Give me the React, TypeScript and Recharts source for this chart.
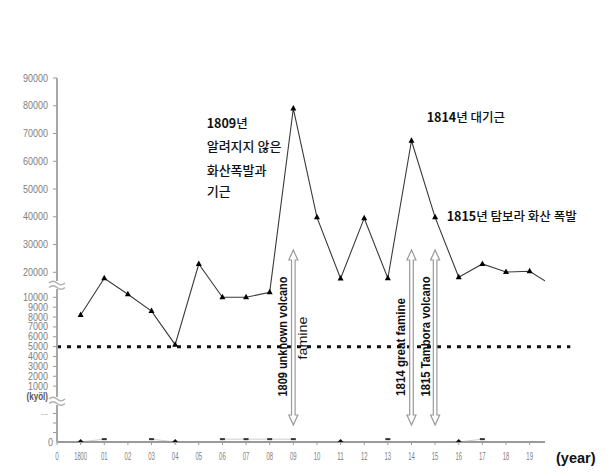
import React from 'react';
import { LineChart, Line, XAxis, YAxis, ReferenceLine } from 'recharts';

// categories: 1800 .. 1820 (the 1820 point only shows as the clipped end of the line)
const yearLabels = ['1800', '01', '02', '03', '04', '05', '06', '07', '08', '09', '10', '11', '12', '13', '14', '15', '16', '17', '18', '19', '20'];
const deaths = [8200, 17600, 11200, 8600, 5200, 23000, 10000, 10000, 12000, 79000, 39800, 17500, 39500, 17600, 67400, 39800, 18000, 23000, 20100, 20400, 14500];
const lowSeries = [0, 0.3, null, 0.3, 0, null, 0.3, 0.3, 0.3, 0.3, null, 0, null, 0.3, null, null, 0, 0.3, null, null, null];

const upperTicks = [20000, 30000, 40000, 50000, 60000, 70000, 80000, 90000];
const lowerTicks = [1000, 2000, 3000, 4000, 5000, 6000, 7000, 8000, 9000, 10000];
const subTicks = [0, 1, 2, 3];
const famineLine = 5000;

const eventYears = [9, 14, 15];
const eventLabels = ['1809 unknown volcano', '1814 great famine', '1815 Tambora volcano'];

// broken axis: value -> axis unit (piecewise linear)
const MAIN_STOPS: [number, number][] = [[0, 46], [10000, 144.7], [20000, 169.7], [90000, 364]];
const SUB_STOPS: [number, number][] = [[0, 0], [3, 28.5]];
const BREAKS = [41, 157];
const ARROW_TOP = 192;
const ARROW_BOTTOM = 17;

function piece(v: number, stops: [number, number][]) {
    for (let i = 1; i < stops.length; i++) {
        const [v0, u0] = stops[i - 1];
        const [v1, u1] = stops[i];
        if (v <= v1 || i === stops.length - 1) {
            return u0 + ((v - v0) / (v1 - v0)) * (u1 - u0);
        }
    }
    return 0;
}
const mainAxis = (v: number) => piece(v, MAIN_STOPS);
const subAxis = (v: number) => piece(v, SUB_STOPS);

const data = yearLabels.map((label, i) => ({
    x: i,
    label,
    main: mainAxis(deaths[i]),
    sub: lowSeries[i] == null ? null : subAxis(lowSeries[i] as number),
    subRaw: lowSeries[i],
}));

type TickInfo = { label: string; kind: string };
const tickInfo = new Map<string, TickInfo>();
upperTicks.forEach((v) => tickInfo.set(mainAxis(v).toFixed(2), { label: String(v), kind: 'main' }));
lowerTicks.forEach((v) => tickInfo.set(mainAxis(v).toFixed(2), { label: String(v), kind: 'main' }));
tickInfo.set(mainAxis(0).toFixed(2), { label: '(kyöl)', kind: 'unit' });
subTicks.forEach((v) => tickInfo.set(subAxis(v).toFixed(2), { label: v === 0 ? '0' : v === 3 ? '--' : '', kind: 'sub' }));
BREAKS.forEach((u) => tickInfo.set(u.toFixed(2), { label: '', kind: 'break' }));
const yTicks = Array.from(tickInfo.keys()).map(Number).sort((a, b) => a - b);

const xTicks = [-1, ...yearLabels.slice(0, 20).map((_, i) => i)];
const xLabel = (v: number) => (v < 0 ? '0' : yearLabels[v]);

const tickFont = "'Liberation Sans Narrow', 'Liberation Sans', Arial, sans-serif";

const YTick = (props: any) => {
    const { x, y, payload } = props;
    const info = tickInfo.get(Number(payload.value).toFixed(2));
    if (!info) return null;
    const axisX = x + 9;
    if (info.kind === 'break') {
        return (
            <g>
                <rect x={axisX - 2} y={y - 4} width={4} height={8} fill="#fff" />
                <path
                    d={`M ${axisX - 8} ${y - 2} q 4 -3.5 8 0 t 8 0 M ${axisX - 8} ${y + 2.5} q 4 -3.5 8 0 t 8 0`}
                    fill="none"
                    stroke="#b0b0b0"
                    strokeWidth={1.6}
                />
            </g>
        );
    }
    if (info.kind === 'unit') {
        return (
            <text x={x} y={y} textAnchor="end" dominantBaseline="central" fontSize={10} fontWeight="bold"
                fill="#555" fontFamily={tickFont} textLength={21.5} lengthAdjust="spacingAndGlyphs">
                {info.label}
            </text>
        );
    }
    const showLine = !(info.kind === 'sub' && info.label === '0');
    return (
        <g>
            {showLine && <line x1={axisX - 4} x2={axisX} y1={y} y2={y} stroke="#9a9a9a" strokeWidth={1} />}
            {info.label && (
                <text
                    x={info.kind === 'sub' && info.label === '0' ? x + 5 : x}
                    y={y}
                    textAnchor="end"
                    dominantBaseline="central"
                    fontSize={10}
                    fill={info.label === '--' ? '#c0c0c0' : '#808080'}
                    fontFamily={tickFont}
                    textLength={info.label === '--' ? 7 : info.label.length * 5}
                    lengthAdjust="spacingAndGlyphs"
                >
                    {info.label}
                </text>
            )}
        </g>
    );
};

const XTick = (props: any) => {
    const { x, y, payload } = props;
    const label = xLabel(payload.value);
    return (
        <text x={x} y={y + 9} textAnchor="middle" dominantBaseline="central" fontSize={10} fill="#808080"
            fontFamily={tickFont} textLength={label.length * 3.1 + 0.4} lengthAdjust="spacingAndGlyphs">
            {label}
        </text>
    );
};

const Triangle = (props: any) => {
    const { cx, cy, index } = props;
    if (cx == null || cy == null) return <g key={index} />;
    return <polygon key={index} points={`${cx},${cy - 3.5} ${cx + 3},${cy + 2} ${cx - 3},${cy + 2}`} fill="#000" />;
};

const LowMark = (props: any) => {
    const { cx, cy, index, payload } = props;
    if (cx == null || cy == null || payload.subRaw == null) return <g key={index} />;
    if (payload.subRaw === 0) {
        return <polygon key={index} points={`${cx},${cy - 3} ${cx + 3},${cy} ${cx},${cy + 3} ${cx - 3},${cy}`} fill="#111" />;
    }
    return <rect key={index} x={cx - 2.5} y={cy - 1} width={5} height={2} fill="#333" />;
};

const labelLengths = [120, 98, 120];

const EventArrow = (props: any) => {
    const { x1, y1, y2 } = props;
    const x = x1;
    const top = Math.min(y1, y2);
    const bot = Math.max(y1, y2);
    const hw = 4.5;
    const sw = 1.8;
    const hl = 10;
    const pts = [
        [x, top], [x + hw, top + hl], [x + sw, top + hl], [x + sw, bot - hl], [x + hw, bot - hl],
        [x, bot], [x - hw, bot - hl], [x - sw, bot - hl], [x - sw, top + hl], [x - hw, top + hl],
    ].map((p) => p.join(',')).join(' ');
    const idx = eventYears.indexOf(props.eventYear);
    const mid = (top + bot) / 2;
    const textStyle = { fontFamily: "'Liberation Sans', Arial, sans-serif", fill: '#111' };
    const lx = idx === 0 ? x - 10.5 : idx === 1 ? x - 10 : x - 8.8;
    const ly = idx === 1 ? mid + 9.5 : mid - 1;
    return (
        <g>
            <polygon points={pts} fill="#fff" stroke="#9a9a9a" strokeWidth={1.2} />
            <text x={lx} y={ly} textAnchor="middle" dominantBaseline="central" fontWeight="bold" fontSize={12}
                transform={`rotate(-90 ${lx} ${ly})`} textLength={labelLengths[idx]} lengthAdjust="spacingAndGlyphs"
                {...textStyle}>
                {eventLabels[idx]}
            </text>
            {idx === 0 && (
                <text x={x + 10} y={mid + 0.5} textAnchor="middle" dominantBaseline="central"
                    transform={`rotate(-90 ${x + 10} ${mid + 0.5})`} {...textStyle} fontSize={12.5}
                    textLength={43} lengthAdjust="spacingAndGlyphs">
                    famine
                </text>
            )}
        </g>
    );
};

const krFont = "'Noto Sans CJK KR', sans-serif";
const note = (left: number, cy: number, size = 13): React.CSSProperties => ({
    position: 'absolute',
    left,
    top: cy - 9,
    lineHeight: '18px',
    fontSize: size,
    fontWeight: 500,
    fontFamily: krFont,
    color: '#111',
    whiteSpace: 'nowrap',
});

export default function App() {
    return (
        <div style={{ position: 'absolute', left: 0, top: 0, width: 611, height: 476, background: '#fff' }}>
            <LineChart width={611} height={476} data={data} margin={{ top: 78, right: 66, bottom: 0, left: 0 }}>
                <XAxis
                    type="number"
                    dataKey="x"
                    domain={[-1, 19.65]}
                    allowDataOverflow
                    ticks={xTicks}
                    interval={0}
                    tick={<XTick />}
                    tickSize={3}
                    tickLine={{ stroke: '#9a9a9a' }}
                    axisLine={{ stroke: '#9a9a9a', strokeWidth: 2 }}
                    height={34}
                />
                <YAxis
                    type="number"
                    domain={[0, 364]}
                    allowDataOverflow
                    ticks={yTicks}
                    interval={0}
                    tick={<YTick />}
                    tickLine={false}
                    tickSize={4}
                    tickMargin={5}
                    axisLine={{ stroke: '#a8a8a8', strokeWidth: 2 }}
                    width={57}
                />
                <ReferenceLine
                    segment={[{ x: -1, y: mainAxis(famineLine) }, { x: 20.72, y: mainAxis(famineLine) }]}
                    ifOverflow="visible"
                    stroke="#111"
                    strokeWidth={3}
                    strokeDasharray="4 6"
                />
                {eventYears.map((yr) => (
                    <ReferenceLine
                        key={yr}
                        segment={[{ x: yr, y: ARROW_TOP }, { x: yr, y: ARROW_BOTTOM }]}
                        ifOverflow="visible"
                        shape={(p: any) => <EventArrow {...p} eventYear={yr} />}
                    />
                ))}
                <Line
                    dataKey="sub"
                    stroke="#cfcfcf"
                    strokeWidth={1}
                    dot={<LowMark />}
                    activeDot={false}
                    connectNulls={false}
                    isAnimationActive={false}
                />
                <Line
                    dataKey="main"
                    stroke="#3a3a3a"
                    strokeWidth={1.1}
                    dot={<Triangle />}
                    activeDot={false}
                    isAnimationActive={false}
                />
            </LineChart>

            <div style={note(206.7, 122.5, 12.5)}><b>1809</b>년</div>
            <div style={note(206.7, 145.5)}>알려지지 않은</div>
            <div style={note(206.7, 169.5)}>화산폭발과</div>
            <div style={note(206.7, 191)}>기근</div>
            <div style={note(426.7, 116.7, 12.5)}><b>1814</b>년 대기근</div>
            <div style={note(446.7, 215.8, 12.5)}><b>1815</b>년 탐보라 화산 폭발</div>
            <div style={{ position: 'absolute', left: 556, top: 449, lineHeight: '18px', fontSize: 14.5, fontWeight: 'bold',
                fontFamily: "'Liberation Sans', Arial, sans-serif", color: '#111' }}>
                (year)
            </div>
        </div>
    );
}
